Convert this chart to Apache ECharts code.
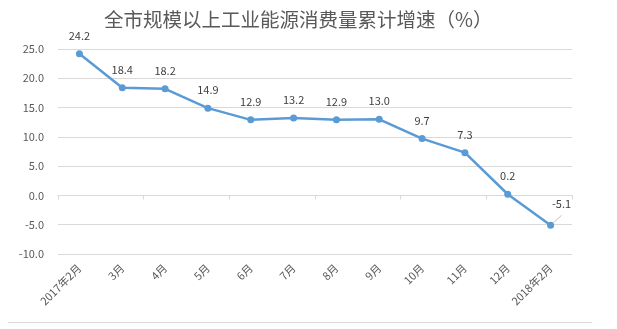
<!DOCTYPE html>
<html><head><meta charset="utf-8">
<script src="https://cdn.jsdelivr.net/npm/echarts@6/dist/echarts.min.js"></script>
<style>html,body{margin:0;padding:0;background:#fff}#c{width:617px;height:329px}</style>
</head><body><div id="c"></div>
<script>
const titleText = '全市规模以上工业能源消费量累计增速（%）';
const categories = ['2017年2月','3月','4月','5月','6月','7月','8月','9月','10月','11月','12月','2018年2月'];
const growth = [24.2, 18.4, 18.2, 14.9, 12.9, 13.2, 12.9, 13.0, 9.7, 7.3, 0.2, -5.1];
const yTicks = {min: -10, max: 25, interval: 5};

const font = '"Noto Sans CJK SC", "Noto Sans", sans-serif';
const chart = echarts.init(document.getElementById('c'), null, {renderer: 'canvas'});
const data = growth.map((v, i) => {
  if (i === growth.length - 1) {
    return {value: v, label: {offset: [11, -3]}, labelLine: {show: true, lineStyle: {color: '#bfbfbf', width: 1}}};
  }
  return v;
});
chart.setOption({
  animation: false,
  textStyle: {fontFamily: font},
  title: {
    text: titleText, left: 99, top: 5,
    textStyle: {fontSize: 19.5, fontWeight: 'normal', color: '#595959', fontFamily: font}
  },
  grid: {left: 58, right: 45, top: 49, bottom: 75, containLabel: false},
  xAxis: [{
    type: 'category', data: categories, boundaryGap: true,
    axisLine: {onZero: true, lineStyle: {color: '#d9d9d9', width: 1}},
    axisTick: {show: true, length: 4, lineStyle: {color: '#d9d9d9'}},
    axisLabel: {show: false}
  }, {
    type: 'category', data: categories, boundaryGap: true, position: 'bottom',
    axisLine: {show: false}, axisTick: {show: false},
    axisLabel: {rotate: 45, fontSize: 11, color: '#595959', margin: 12, interval: 0, fontFamily: font}
  }],
  yAxis: {
    type: 'value', min: yTicks.min, max: yTicks.max, interval: yTicks.interval,
    axisLine: {show: false}, axisTick: {show: false},
    axisLabel: {formatter: v => v.toFixed(1), fontSize: 11, color: '#595959', margin: 14, fontFamily: font},
    splitLine: {lineStyle: {color: '#d9d9d9', width: 1}}
  },
  series: [{
    type: 'line', xAxisIndex: 0, data: data,
    symbol: 'circle', symbolSize: 7,
    lineStyle: {color: '#5B9BD5', width: 2.5},
    itemStyle: {color: '#5B9BD5'},
    label: {show: true, position: 'top', distance: 9, fontSize: 11, color: '#404040',
      formatter: p => Number(p.value).toFixed(1), fontFamily: font}
  }],
  graphic: [{
    type: 'line', shape: {x1: 8, y1: 322.5, x2: 592, y2: 322.5},
    style: {stroke: '#d9d9d9', lineWidth: 1}
  }]
});
</script></body></html>
